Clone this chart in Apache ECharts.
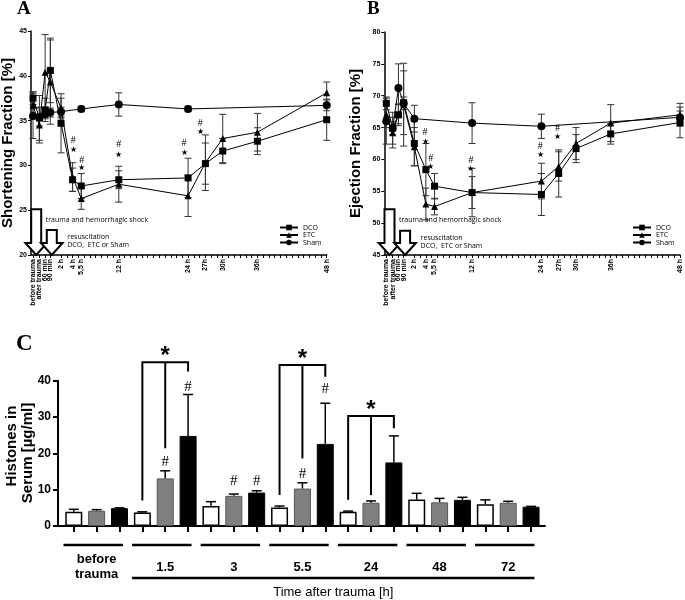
<!DOCTYPE html>
<html><head><meta charset="utf-8">
<script src="https://cdn.jsdelivr.net/npm/echarts@6/dist/echarts.min.js"></script>
<style>html,body{margin:0;padding:0;background:#fff}#c{width:685px;height:600px}</style>
</head><body><div id="c"></div>
<script>
// ---------- data ----------
const timeLabels = ['before trauma','after trauma','60 min','90 min','2 h','4 h','5,5 h','12 h','24 h','27h','30h','36h','48 h'];
const timeHours  = [-2.85, -1.75, -0.75, 0.15, 2, 4, 5.5, 12, 24, 27, 30, 36, 48];

// A: Shortening Fraction [%]
const sfDCO     = [37.5, 35.3, 36.2, 40.6, 34.7, 28.4, 27.7, 28.4, 28.6, 30.2, 31.6, 32.7, 35.1];
const sfDCOErr  = [0.7, 2.5, 1.3, 3.6, 3.3, 1.3, 1.4, 1.0, 2.2, 2.3, 1.4, 1.5, 2.3];
const sfETC     = [36.7, 34.5, 40.4, 39.3, 36.4, 28.7, 26.3, 27.9, 26.6, 30.3, 33.0, 33.7, 38.1];
const sfETCErr  = [1.5, 2.0, 4.2, 4.7, 1.1, 1.6, 1.2, 2.0, 2.3, 3.1, 2.7, 2.1, 1.2];
const sfSham    = [35.5, 35.4, 35.7, 35.9, 36.0, null, 36.3, 36.8, 36.3, null, null, null, 36.7];
const sfShamErr = [2.5, 1.0, 0.5, 0.5, 0.5, null, 0.3, 1.3, 0.3, null, null, null, 0.6];

// B: Ejection Fraction [%]
const efDCO     = [68.8, 64.9, 67.0, 68.9, 62.5, 58.4, 55.8, 54.8, 54.5, 57.8, 61.7, 64.0, 65.8];
const efDCOErr  = [1.0, 2.5, 1.7, 5.0, 3.5, 4.1, 2.0, 2.5, 3.3, 3.7, 2.2, 1.6, 2.4];
const efETC     = [67.0, 64.2, 67.1, 68.6, 62.0, 53.0, 52.6, 54.8, 56.6, 58.9, 62.5, 65.7, 67.0];
const efETCErr  = [2.0, 2.4, 1.5, 6.5, 3.0, 2.5, 1.3, 3.8, 2.8, 2.3, 2.5, 2.9, 1.8];
const efSham    = [66.0, 64.9, 71.2, 68.8, 66.4, null, null, 65.7, 65.2, null, null, null, 66.6];
const efShamErr = [3.6, 1.0, 3.8, 1.0, 2.1, null, null, 3.2, 1.9, null, null, null, 1.0];

// significance marks (#, *) on A and B
const sigAx = [4.1, 5.6, 12, 23.3, 26.1];
const sigAHash = [32.8, 30.6, 32.3, 32.5, 34.7];
const sigAStar = [31.7, 29.7, 31.2, 31.4, 33.7];
const sigBx = [3.85, 4.85, 11.8, 23.8, 26.8];
const sigBHash = [64.3, 60.1, 59.9, 62.0, 64.9];
const sigBStar = [62.8, 58.9, 58.6, 60.7, 63.6];

// arrows (time of tip, top value)
const arrowTimes = [-2.3, 0.4];
const arrowTopA = [25.1, 22.8];
const arrowTopB = [52.2, 48.8];
const arrowNotes = ['trauma and hemorrhagic shock', 'resuscitation\nDCO,  ETC or Sham'];

// C: Histones in Serum [µg/ml]
const timeC = ['before trauma', '1.5', '3', '5.5', '24', '48', '72'];
const histWhite    = [3.9, 3.7, 5.5, 5.1, 3.9, 7.3, 6.0];
const histWhiteErr = [0.7, 0.2, 1.2, 0.4, 0.2, 1.7, 1.2];
const histGray     = [4.2, 13.1, 8.3, 10.3, 6.4, 6.5, 6.4];
const histGrayErr  = [0.3, 2.1, 0.5, 1.6, 0.5, 1.1, 0.4];
const histBlack    = [4.9, 24.8, 9.2, 22.6, 17.5, 7.2, 5.3];
const histBlackErr = [0.1, 11.4, 0.5, 11.2, 7.3, 0.7, 0.1];
const hashC = [[4, 17.7], [5, 38.2], [7, 12.4], [8, 12.4], [10, 14.3], [11, 37.6]];
// [left bar, middle bar, right bar, top, bottom left, bottom middle, bottom right]
const bracketsC = [[3, 4, 5, 45.1, 7.0, 21.4, 42.5], [9, 10, 11, 44.3, 8.5, 18.6, 41.1], [12, 13, 14, 30.3, 7.2, 8.5, 26.9]];

// ---------- helpers ----------
const SANS = '"Liberation Sans", Arial, sans-serif';
const SERIF = '"Liberation Serif", "Times New Roman", serif';
const NOTE = '"Open Sans", sans-serif';

const hourTicks = [];
for (let h = 2; h <= 48; h++) hourTicks.push(h);
const xTicks = timeHours.slice(0, 4).concat(hourTicks);

function pts(arr) {
  return timeHours.map((t, i) => arr[i] == null ? null : [t, arr[i]]).filter(Boolean);
}
function errRows(arr, err) {
  return timeHours.map((t, i) => arr[i] == null ? null : [t, arr[i] - err[i], arr[i] + err[i]]).filter(Boolean);
}
function errRender(params, api) {
  const x = api.value(0);
  const p1 = api.coord([x, api.value(1)]), p2 = api.coord([x, api.value(2)]);
  const w = 3.5, st = {stroke: '#333', lineWidth: 1};
  return {type: 'group', children: [
    {type: 'line', shape: {x1: p1[0], y1: p1[1], x2: p2[0], y2: p2[1]}, style: st},
    {type: 'line', shape: {x1: p1[0] - w, y1: p1[1], x2: p1[0] + w, y2: p1[1]}, style: st},
    {type: 'line', shape: {x1: p2[0] - w, y1: p2[1], x2: p2[0] + w, y2: p2[1]}, style: st}
  ]};
}
function sigRender(params, api) {
  const x = api.value(0);
  const ph = api.coord([x, api.value(1)]), ps = api.coord([x, api.value(2)]);
  return {type: 'group', children: [
    {type: 'text', x: ph[0], y: ph[1], style: {text: '#', font: '10px ' + SERIF, fill: '#000', align: 'center', verticalAlign: 'middle'}},
    {type: 'text', x: ps[0], y: ps[1], style: {text: '\u2605', font: '8px ' + SANS, fill: '#000', align: 'center', verticalAlign: 'middle'}}
  ]};
}
function arrowRender(yMinVal) {
  return function (params, api) {
    const t = api.value(0), top = api.value(1), idx = api.value(2);
    const pTop = api.coord([t, top]), pTip = api.coord([t, yMinVal]);
    const cx = pTop[0], y0 = pTop[1], y1 = pTip[1];
    const sw = 5, hw = 10.8, hh = 12, yh = y1 - hh;
    const poly = [[cx - sw, y0], [cx + sw, y0], [cx + sw, yh], [cx + hw, yh], [cx, y1], [cx - hw, yh], [cx - sw, yh]];
    return {type: 'group', children: [
      {type: 'polygon', shape: {points: poly}, style: {fill: '#fff', stroke: '#000', lineWidth: 2}},
      {type: 'text', x: cx + sw + (idx === 0 ? 4.5 : 10.5), y: y0 + (idx === 0 ? 11 : 2.5),
        style: {text: arrowNotes[idx], font: '7px ' + NOTE, fill: '#000', verticalAlign: idx === 0 ? 'middle' : 'top', lineHeight: 8.5}}
    ]};
  };
}
function timeLabelRender(yMinVal) {
  return function (params, api) {
    const i = api.value(1);
    const p = api.coord([api.value(0), yMinVal]);
    return {type: 'text', x: p[0], y: p[1] + 4, rotation: Math.PI / 2,
      style: {text: timeLabels[i], font: 'bold 7px ' + SANS, fill: '#000', align: 'right', verticalAlign: 'middle'}};
  };
}
function timeAxis(gi) {
  return {
    type: 'value', gridIndex: gi, min: -3.2, max: 48,
    axisLine: {show: true, onZero: false, lineStyle: {color: '#000', width: 1.5}},
    axisTick: {show: true, customValues: xTicks, length: 3, lineStyle: {color: '#000', width: 1}},
    axisLabel: {show: false},
    splitLine: {show: false}
  };
}
function fracAxis(gi, min, max, name, gap) {
  return {
    type: 'value', gridIndex: gi, min: min, max: max, interval: 5,
    name: name, nameLocation: 'middle', nameGap: gap, nameRotate: 90,
    nameTextStyle: {fontSize: 15, fontWeight: 'bold', fontFamily: SANS, color: '#000'},
    axisLine: {show: true, onZero: false, lineStyle: {color: '#000', width: 1.5}},
    axisTick: {show: true, length: 3, lineStyle: {color: '#000', width: 1}},
    axisLabel: {fontSize: 7, fontWeight: 'bold', fontFamily: SANS, color: '#000', margin: 4},
    splitLine: {show: false}
  };
}
function lineSeries(name, arr, sym, size, xi) {
  return {type: 'line', name: name, xAxisIndex: xi, yAxisIndex: xi, data: pts(arr), symbol: sym, symbolSize: size,
    lineStyle: {color: '#000', width: 1}, itemStyle: {color: '#000'}, z: 5, animation: false};
}
function errSeries(arr, err, xi) {
  return {type: 'custom', xAxisIndex: xi, yAxisIndex: xi, data: errRows(arr, err), renderItem: errRender, z: 3,
    encode: {x: 0, y: [1, 2]}, animation: false, silent: true};
}

// ---------- panel C helpers ----------
function barPts(arr, j) { return arr.map((v, g) => [g * 3 + j, v]); }
function barErrRows(arr, err, j) { return arr.map((v, g) => [g * 3 + j, v, v + err[g]]); }
function barErrRender(params, api) {
  const x = api.value(0);
  const p1 = api.coord([x, api.value(1)]), p2 = api.coord([x, api.value(2)]);
  const st = {stroke: '#000', lineWidth: 1.5};
  return {type: 'group', children: [
    {type: 'line', shape: {x1: p1[0], y1: p1[1], x2: p2[0], y2: p2[1]}, style: st},
    {type: 'line', shape: {x1: p2[0] - 5, y1: p2[1], x2: p2[0] + 5, y2: p2[1]}, style: st}
  ]};
}
function bracketRender(params, api) {
  const i0 = api.value(0), i1 = api.value(1), i2 = api.value(2), top = api.value(3);
  const a = api.coord([i0, top]), b = api.coord([i1, top]), c = api.coord([i2, top]);
  const a2 = api.coord([i0, api.value(4)]), b2 = api.coord([i1, api.value(5)]), c2 = api.coord([i2, api.value(6)]);
  const st = {stroke: '#000', lineWidth: 2};
  return {type: 'group', children: [
    {type: 'polyline', shape: {points: [[a2[0], a2[1]], [a[0], a[1]], [c[0], c[1]], [c2[0], c2[1]]]}, style: Object.assign({fill: null}, st)},
    {type: 'line', shape: {x1: b[0], y1: b[1], x2: b2[0], y2: b2[1]}, style: st},
    {type: 'text', x: b[0], y: b[1] - 6, style: {text: '*', font: 'bold 24px ' + SANS, fill: '#000', align: 'center', verticalAlign: 'middle'}}
  ]};
}
function hashRender(params, api) {
  const p = api.coord([api.value(0), api.value(1)]);
  return {type: 'text', x: p[0], y: p[1], style: {text: '#', font: '15px ' + SERIF, fill: '#000', align: 'center', verticalAlign: 'middle'}};
}
function underlineRender(params, api) {
  const g = api.value(0);
  const p0 = api.coord([g * 3 - 0.45, 0]), p1 = api.coord([g * 3 + 2.15, 0]);
  const y = p0[1] + 19;
  const children = [{type: 'line', shape: {x1: p0[0], y1: y, x2: p1[0], y2: y}, style: {stroke: '#000', lineWidth: 2.5}}];
  if (g === 1) {
    const e = api.coord([(timeC.length - 1) * 3 + 2.15, 0]);
    children.push({type: 'line', shape: {x1: p0[0], y1: y + 33, x2: e[0], y2: y + 33}, style: {stroke: '#000', lineWidth: 2.5}});
    children.push({type: 'text', x: (p0[0] + e[0]) / 2, y: y + 47, style: {text: 'Time after trauma [h]', font: '13px ' + SANS, fill: '#000', align: 'center', verticalAlign: 'middle'}});
  }
  return {type: 'group', children: children};
}

const barCenters = [];
for (let i = 0; i < timeC.length * 3; i++) barCenters.push(i);
const groupCenters = timeC.map((t, g) => g * 3 + 1);

// ---------- option ----------
const chart = echarts.init(document.getElementById('c'), null, {renderer: 'canvas'});
const option = {
  animation: false,
  backgroundColor: '#fff',
  grid: [
    {left: 31, top: 31, width: 295.7, height: 224, outerBoundsMode: 'none', containLabel: false},
    {left: 384.3, top: 32, width: 295.7, height: 223, outerBoundsMode: 'none', containLabel: false},
    {left: 58, top: 380.7, width: 487, height: 145.3, outerBoundsMode: 'none', containLabel: false}
  ],
  xAxis: [
    timeAxis(0), timeAxis(1),
    {type: 'value', gridIndex: 2, min: -0.69, max: 20.61,
      axisLine: {show: true, onZero: false, lineStyle: {color: '#000', width: 2}},
      axisTick: {show: true, customValues: barCenters, length: 6, lineStyle: {color: '#000', width: 2}},
      axisLabel: {show: true, customValues: groupCenters, margin: 41, verticalAlign: 'middle', fontSize: 13, fontWeight: 'bold',
        fontFamily: SANS, color: '#000', lineHeight: 15, hideOverlap: false,
        formatter: v => { const g = Math.round((v - 1) / 3); return (timeC[g] || '').replace(' ', '\n'); }},
      splitLine: {show: false}}
  ],
  yAxis: [
    fracAxis(0, 20, 45, 'Shortening Fraction [%]', 14),
    fracAxis(1, 45, 80, 'Ejection Fraction [%]', 21),
    {type: 'value', gridIndex: 2, min: 0, max: 40, interval: 10,
      axisLine: {show: true, onZero: false, lineStyle: {color: '#000', width: 2}},
      axisTick: {show: true, length: 5, lineStyle: {color: '#000', width: 2}},
      axisLabel: {fontSize: 12, fontWeight: 'bold', fontFamily: SANS, color: '#000', margin: 7},
      splitLine: {show: false}}
  ],
  legend: [
    {data: ['DCO', 'ETC', 'Sham'], orient: 'vertical', left: 279, top: 224, itemWidth: 18, itemHeight: 7, itemGap: 0.5,
      padding: 0, selectedMode: false, textStyle: {fontSize: 7, fontFamily: NOTE, color: '#000'}},
    {data: ['DCO', 'ETC', 'Sham'], orient: 'vertical', left: 632, top: 224, itemWidth: 18, itemHeight: 7, itemGap: 0.5,
      padding: 0, selectedMode: false, textStyle: {fontSize: 7, fontFamily: NOTE, color: '#000'}}
  ],
  graphic: [
    {type: 'text', left: 17, top: 0, style: {text: 'A', font: 'bold 19px ' + SERIF, fill: '#000'}},
    {type: 'text', left: 367, top: 0, style: {text: 'B', font: 'bold 19px ' + SERIF, fill: '#000'}},
    {type: 'text', left: 16, top: 333, style: {text: 'C', font: 'bold 23px ' + SERIF, fill: '#000'}},
    {type: 'text', x: 12, y: 446, rotation: Math.PI / 2,
      style: {text: 'Histones in', font: 'bold 15px ' + SANS, fill: '#000', align: 'center', verticalAlign: 'middle'}},
    {type: 'text', x: 28, y: 453, rotation: Math.PI / 2,
      style: {text: 'Serum [\u00b5g/ml]', font: 'bold 15px ' + SANS, fill: '#000', align: 'center', verticalAlign: 'middle'}}
  ],
  series: [
    // A
    errSeries(sfDCO, sfDCOErr, 0), errSeries(sfETC, sfETCErr, 0), errSeries(sfSham, sfShamErr, 0),
    lineSeries('DCO', sfDCO, 'rect', 7, 0), lineSeries('ETC', sfETC, 'triangle', 7, 0), lineSeries('Sham', sfSham, 'circle', 8, 0),
    {type: 'custom', xAxisIndex: 0, yAxisIndex: 0, data: sigAx.map((x, i) => [x, sigAHash[i], sigAStar[i]]), renderItem: sigRender, z: 6, silent: true},
    {type: 'custom', xAxisIndex: 0, yAxisIndex: 0, data: arrowTimes.map((t, i) => [t, arrowTopA[i], i]), renderItem: arrowRender(20), z: 7, clip: false, silent: true},
    {type: 'custom', xAxisIndex: 0, yAxisIndex: 0, data: timeHours.map((t, i) => [t, i]), renderItem: timeLabelRender(20), z: 7, clip: false, silent: true},
    // B
    errSeries(efDCO, efDCOErr, 1), errSeries(efETC, efETCErr, 1), errSeries(efSham, efShamErr, 1),
    lineSeries('DCO', efDCO, 'rect', 7, 1), lineSeries('ETC', efETC, 'triangle', 7, 1), lineSeries('Sham', efSham, 'circle', 8, 1),
    {type: 'custom', xAxisIndex: 1, yAxisIndex: 1, data: sigBx.map((x, i) => [x, sigBHash[i], sigBStar[i]]), renderItem: sigRender, z: 6, silent: true},
    {type: 'custom', xAxisIndex: 1, yAxisIndex: 1, data: arrowTimes.map((t, i) => [t, arrowTopB[i], i]), renderItem: arrowRender(45), z: 7, clip: false, silent: true},
    {type: 'custom', xAxisIndex: 1, yAxisIndex: 1, data: timeHours.map((t, i) => [t, i]), renderItem: timeLabelRender(45), z: 7, clip: false, silent: true},
    // C
    {type: 'bar', name: 'white', xAxisIndex: 2, yAxisIndex: 2, data: barPts(histWhite, 0), barWidth: 17, barGap: '-100%',
      itemStyle: {color: '#fff', borderColor: '#000', borderWidth: 1.5}},
    {type: 'bar', name: 'gray', xAxisIndex: 2, yAxisIndex: 2, data: barPts(histGray, 1), barWidth: 17, barGap: '-100%',
      itemStyle: {color: '#808080', borderColor: '#555', borderWidth: 1}},
    {type: 'bar', name: 'black', xAxisIndex: 2, yAxisIndex: 2, data: barPts(histBlack, 2), barWidth: 17, barGap: '-100%',
      itemStyle: {color: '#000', borderColor: '#000', borderWidth: 1}},
    {type: 'custom', xAxisIndex: 2, yAxisIndex: 2, data: barErrRows(histWhite, histWhiteErr, 0), renderItem: barErrRender, z: 1, silent: true},
    {type: 'custom', xAxisIndex: 2, yAxisIndex: 2, data: barErrRows(histGray, histGrayErr, 1), renderItem: barErrRender, z: 1, silent: true},
    {type: 'custom', xAxisIndex: 2, yAxisIndex: 2, data: barErrRows(histBlack, histBlackErr, 2), renderItem: barErrRender, z: 1, silent: true},
    {type: 'custom', xAxisIndex: 2, yAxisIndex: 2, data: hashC, renderItem: hashRender, z: 4, clip: false, silent: true},
    {type: 'custom', xAxisIndex: 2, yAxisIndex: 2, data: bracketsC, renderItem: bracketRender, z: 4, clip: false, silent: true},
    {type: 'custom', xAxisIndex: 2, yAxisIndex: 2, data: timeC.map((t, g) => [g]), renderItem: underlineRender, z: 4, clip: false, silent: true}
  ]
};
chart.setOption(option);
</script>
</body></html>
